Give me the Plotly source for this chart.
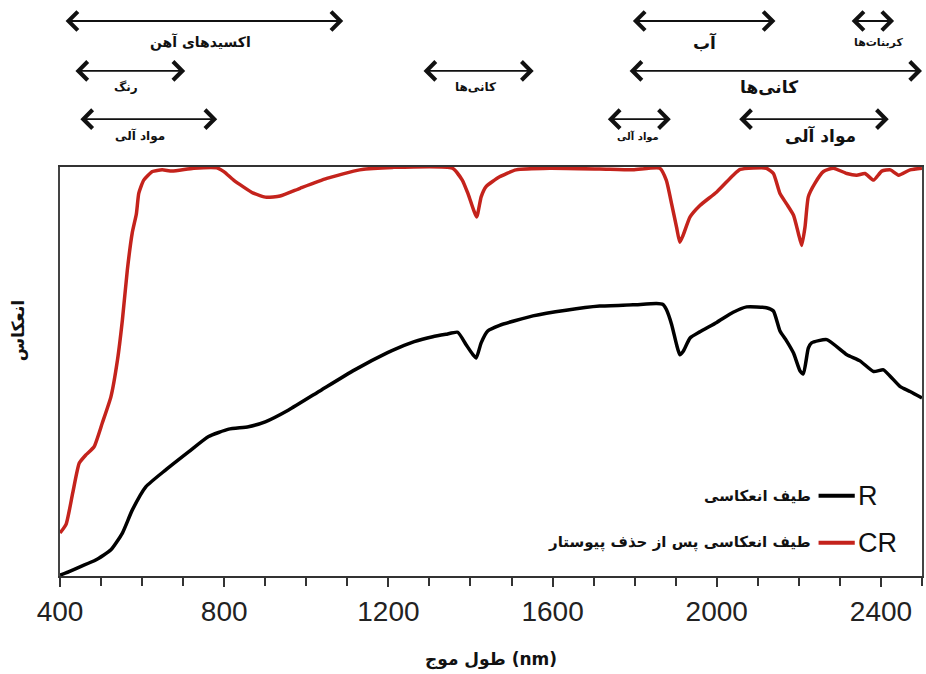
import plotly.graph_objects as go

# Reflectance spectrum (R) of a soil sample, wavelength in nm
r_nm = [400, 425, 450, 487, 524, 552, 576, 609, 657, 714, 762, 811, 859, 900,
        957, 1037, 1118, 1198, 1227, 1263, 1308, 1340, 1369, 1389, 1406, 1414, 1426,
        1442, 1471, 1552, 1633, 1715, 1796, 1853, 1869, 1877, 1890, 1902, 1910,
        1918, 1935, 1959, 2000, 2040, 2073, 2121, 2138, 2154, 2170, 2187, 2203,
        2211, 2223, 2231, 2268, 2317, 2349, 2382, 2406, 2423, 2447, 2471, 2500]
r_val = [0.002, 0.012, 0.023, 0.039, 0.064, 0.105, 0.161, 0.218, 0.259, 0.304,
         0.341, 0.359, 0.365, 0.377, 0.406, 0.455, 0.504, 0.546, 0.559, 0.573,
         0.585, 0.591, 0.596, 0.566, 0.541, 0.533, 0.570, 0.599, 0.613, 0.636, 0.650,
         0.660, 0.663, 0.666, 0.664, 0.652, 0.615, 0.566, 0.541, 0.549, 0.582,
         0.597, 0.620, 0.645, 0.658, 0.656, 0.648, 0.599, 0.575, 0.545, 0.501,
         0.494, 0.557, 0.570, 0.578, 0.541, 0.526, 0.500, 0.504, 0.488, 0.463,
         0.451, 0.435]

# Continuum-removed reflectance (CR)
cr_nm = [400, 415, 431, 447, 463, 483, 503, 524, 540, 552, 564, 576, 586, 592,
         604, 625, 649, 673, 726, 782, 800, 823, 871, 903, 936, 985, 1050, 1130,
         1210, 1356, 1380, 1395, 1415, 1426, 1438, 1471, 1511, 1593, 1715, 1796,
         1861, 1877, 1890, 1902, 1910, 1918, 1935, 1959, 2000, 2040, 2057, 2121,
         2138, 2154, 2170, 2187, 2199, 2207, 2215, 2223, 2239, 2260, 2284, 2317,
         2341, 2361, 2382, 2402, 2423, 2443, 2471, 2500]
cr_val = [0.105, 0.127, 0.203, 0.276, 0.296, 0.316, 0.374, 0.438, 0.528, 0.626,
          0.748, 0.839, 0.885, 0.936, 0.968, 0.989, 0.993, 0.990, 0.997, 0.998,
          0.988, 0.968, 0.936, 0.926, 0.929, 0.948, 0.972, 0.993, 0.999, 0.997,
          0.968, 0.932, 0.878, 0.927, 0.952, 0.976, 0.993, 0.997, 0.995, 0.993,
          0.997, 0.968, 0.910, 0.853, 0.816, 0.833, 0.878, 0.906, 0.939, 0.980,
          0.994, 0.997, 0.984, 0.935, 0.910, 0.882, 0.837, 0.808, 0.853, 0.927,
          0.960, 0.989, 0.997, 0.984, 0.980, 0.984, 0.968, 0.990, 0.993, 0.980,
          0.993, 0.997]

# Absorption feature ranges: (label, start nm, end nm, row, label nm, label size)
features = [
    ("اکسیدهای آهن", 410, 1090, 0, 742, 14),
    ("رنگ", 434, 705, 1, 560, 12),
    ("مواد آلی", 446, 783, 2, 596, 12),
    ("کانی‌ها", 1282, 1554, 1, 1413, 12),
    ("آب", 1792, 2143, 0, 1971, 17),
    ("کربنات‌ها", 2325, 2432, 0, 2395, 11),
    ("کانی‌ها", 1784, 2500, 1, 2128, 17),
    ("مواد آلی", 1731, 1888, 2, 1808, 10),
    ("مواد آلی", 2051, 2419, 2, 2252, 17),
]
row_y = [1.357, 1.235, 1.117]
label_dy = [-0.052, -0.040, -0.042]

x_ticks = [400, 800, 1200, 1600, 2000, 2400]

RED = "#c4231c"
FA = "DejaVu Sans"

fig = go.Figure()
fig.add_trace(go.Scatter(x=r_nm, y=r_val, mode="lines", name="R",
                         line=dict(color="black", width=3.5, shape="spline", smoothing=0.5)))
fig.add_trace(go.Scatter(x=cr_nm, y=cr_val, mode="lines", name="CR",
                         line=dict(color=RED, width=3.5, shape="spline", smoothing=0.5)))

ann = []
for text, x0, x1, row, xl, fs in features:
    ann.append(dict(x=x1, y=row_y[row], xref="x", yref="paper",
                    ax=x0, ay=0, axref="x", ayref="pixel",
                    text="", showarrow=True, arrowside="end+start",
                    arrowhead=4, startarrowhead=4, arrowsize=2.0, startarrowsize=2.0,
                    arrowwidth=1.8, arrowcolor="#111", standoff=0, startstandoff=0))
    ann.append(dict(x=xl, y=row_y[row] + label_dy[row], xref="x", yref="paper",
                    text="<b>" + text + "</b>", showarrow=False,
                    font=dict(family=FA, size=fs, color="#111"),
                    xanchor="center", yanchor="middle"))

# legend rows: Persian description, line swatch, short name
legend_rows = [("طیف انعکاسی", "R", "black", 0.196),
               ("طیف انعکاسی پس از حذف پیوستار", "CR", RED, 0.081)]
shapes = []
for desc, short, col, ly in legend_rows:
    shapes.append(dict(type="line", xref="paper", yref="paper",
                       x0=0.880, x1=0.922, y0=ly, y1=ly,
                       line=dict(color=col, width=4)))
    ann.append(dict(x=0.873, y=ly, xref="paper", yref="paper", text="<b>" + desc + "</b>",
                    showarrow=False, xanchor="right", yanchor="middle",
                    font=dict(family=FA, size=15, color="#111")))
    ann.append(dict(x=0.924, y=ly, xref="paper", yref="paper", text=short,
                    showarrow=False, xanchor="left", yanchor="middle",
                    font=dict(family="Liberation Sans", size=27, color="#111")))

# axis titles
ann.append(dict(x=0.5, y=-0.205, xref="paper", yref="paper",
                text="<b>طول موج (nm)</b>", showarrow=False,
                xanchor="center", yanchor="middle",
                font=dict(family=FA, size=17, color="#111")))
ann.append(dict(x=-0.049, y=0.60, xref="paper", yref="paper",
                text="<b>انعکاس</b>", showarrow=False, textangle=-90,
                xanchor="center", yanchor="middle",
                font=dict(family=FA, size=17, color="#111")))

fig.update_layout(
    width=926, height=674,
    margin=dict(l=60, r=2, t=167, b=98),
    paper_bgcolor="white", plot_bgcolor="white",
    showlegend=False,
    annotations=ann, shapes=shapes,
    xaxis=dict(range=[400, 2500], tickvals=x_ticks, ticks="outside", ticklen=9,
               tickwidth=1.5, tickcolor="#333", showgrid=False, zeroline=False,
               showline=True, linecolor="#333", linewidth=2, mirror=True,
               tickfont=dict(family="Liberation Sans", size=28, color="#222"),
               minor=dict(dtick=100, tick0=400, ticks="outside", ticklen=8,
                          tickwidth=1.5, tickcolor="#333", showgrid=False)),
    yaxis=dict(range=[0, 1], showticklabels=False, ticks="", showgrid=False,
               zeroline=False, showline=True, linecolor="#444", linewidth=2,
               mirror=True),
)

fig.write_html("out.html")
